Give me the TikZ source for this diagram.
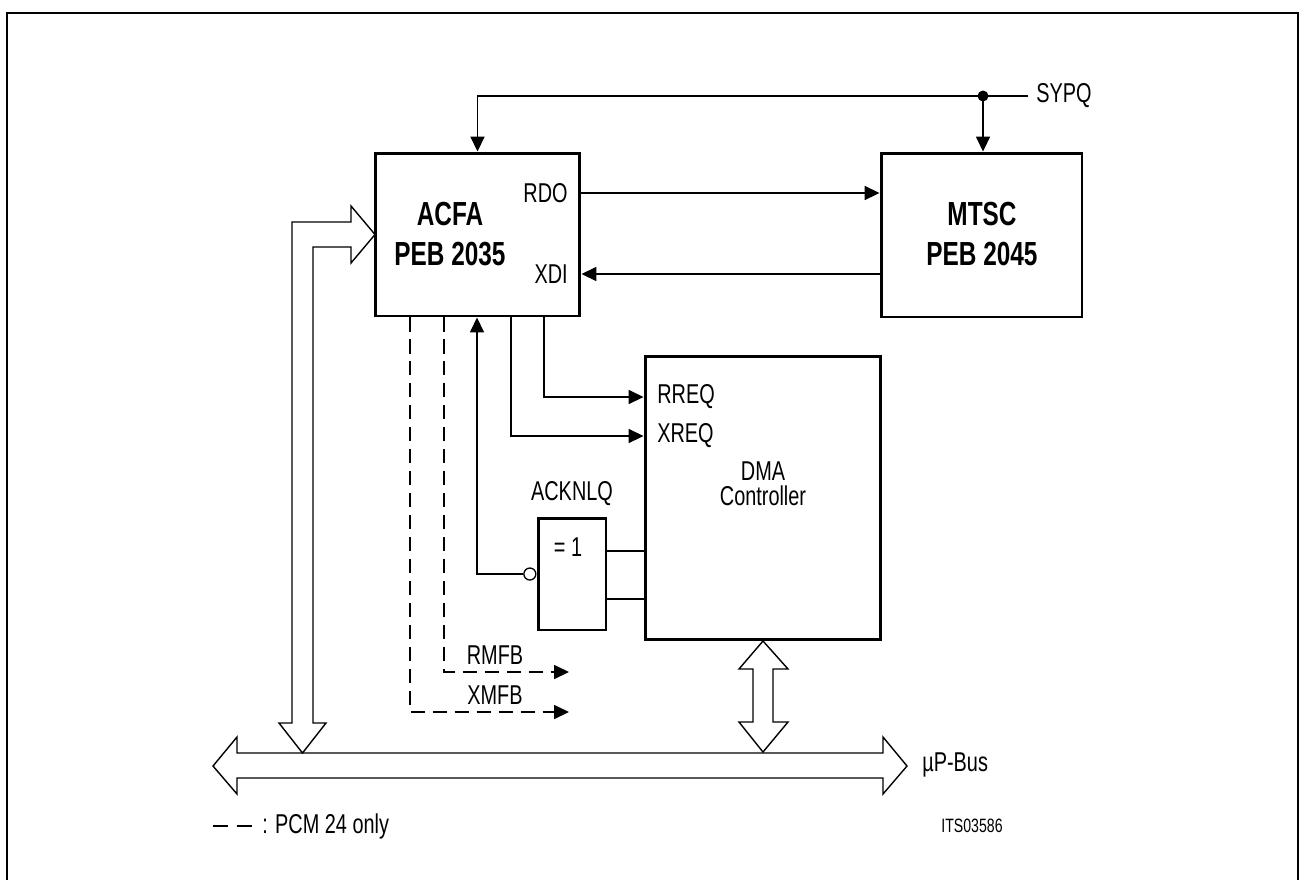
\documentclass[tikz,border=0pt]{standalone}
\usepackage{fontspec}
\setmainfont{Liberation Sans}[FakeStretch=0.73]
\usetikzlibrary{arrows.meta,positioning}

\begin{document}
\begin{tikzpicture}[x=0.02cm,y=-0.02cm,
  blk/.style={draw,line width=1.7pt,inner sep=0pt},
  wire/.style={line width=0.75pt},
  sig/.style={wire,-{Triangle[length=8.5pt,width=8pt]}},
  dsig/.style={sig,dash pattern=on 8pt off 4.5pt},
  fat/.style={draw,line width=0.8pt,fill=white,line join=miter},
  lbl/.style={inner sep=0pt,font=\fontsize{15.5pt}{18pt}\selectfont},
  ttl/.style={inner sep=0pt,align=center,font=\fontsize{19pt}{22.8pt}\selectfont\bfseries},
  negc/.style={draw,circle,line width=0.75pt,inner sep=0pt,minimum size=0.24cm,fill=white},
  jdot/.style={fill,circle,inner sep=0pt,minimum size=0.22cm}]

     \useasboundingbox (0,0) rectangle (1300,880);

     %frame
     \draw[line width=1.2pt] (7,880) -- (7,13) -- (1298,13) -- (1298,880);

     %ACFA and MTSC
     \node[blk,minimum width=4.1cm,minimum height=3.26cm] (acfa) at (477.5,234.5) {};
     \node[ttl] (acfat) at (450,234) {ACFA\\PEB 2035};
     \node[blk,minimum width=4.02cm,minimum height=3.28cm] (mtsc) at (981.5,235) {};
     \node[ttl] (mtsct) at (982,234) {MTSC\\PEB 2045};

     %SYPQ
     \coordinate (sy) at (1028,96);
     \node[jdot] (jn) at (983,96) {};
     \node[lbl,right=0.16cm of sy] (sypq) {SYPQ};
     \draw[wire] (sy) -- (jn.center);
     \draw[sig] (jn.center) -| (acfa.north);
     \draw[sig] (jn.center) -- (jn |- mtsc.north);

     %RDO, XDI
     \node[lbl,anchor=east] (rdo) at (568,193) {RDO};
     \node[lbl,anchor=east] (xdi) at (568,274) {XDI};
     \draw[sig] (rdo -| acfa.east) -- (rdo -| mtsc.west);
     \draw[sig] (xdi -| mtsc.west) -- (xdi -| acfa.east);

     %DMA controller
     \node[blk,minimum width=4.72cm,minimum height=5.68cm] (dma) at (763,498) {};
     \node[lbl,align=center,font=\fontsize{15.5pt}{14.2pt}\selectfont] (dmat) at (763,484) {DMA\\Controller};
     \node[lbl,anchor=west] (rreq) at (657,397) {RREQ};
     \node[lbl,anchor=west] (xreq) at (657,436) {XREQ};
     \coordinate (rr) at (544,0);
     \coordinate (xr) at (511,0);
     \draw[sig] (acfa.south -| rr) |- (rreq -| dma.west);
     \draw[sig] (acfa.south -| xr) |- (xreq -| dma.west);

     %gate
     \node[blk,minimum width=1.36cm,minimum height=2.24cm] (gate) at (572,574) {};
     \node[lbl] (eq) at (568,547) {= 1};
     \node[lbl,above=0.22cm of gate] (ack) {ACKNLQ};
     \coordinate (g1) at (0,551);
     \coordinate (g2) at (0,599);
     \draw[wire] (gate.east |- g1) -- (dma.west |- g1);
     \draw[wire] (gate.east |- g2) -- (dma.west |- g2);
     \node[negc,anchor=east] (neg) at (gate.west) {};
     \coordinate (ak) at (477,0);
     \draw[sig] (neg.west) -| (acfa.south -| ak);

     %PCM 24 only
     \coordinate (rm) at (569,672);
     \coordinate (xm) at (569,712);
     \coordinate (rmx) at (444,0);
     \coordinate (xmx) at (410,0);
     \draw[dsig] (acfa.south -| rmx) |- (rm);
     \draw[dsig] (acfa.south -| xmx) |- (xm);
     \node[lbl] (rmfb) at (495,655) {RMFB};
     \node[lbl] (xmfb) at (495,695) {XMFB};

     %buses
     \draw[fat] (213,766) -- (237,737) -- (237,753) -- (883,753) -- (883,737) -- (907,766)
        -- (883,794) -- (883,778) -- (237,778) -- (237,794) -- cycle;
     \draw[fat] (302.5,753) -- (326,723) -- (313,723) -- (313,247) -- (351,247) -- (351,263)
        -- (375,234.5) -- (351,206) -- (351,222) -- (292,222) -- (292,723) -- (279,723) -- cycle;
     \draw[fat] (763,641) -- (788,669) -- (773,669) -- (773,722) -- (788,722) -- (763,752)
        -- (739,722) -- (753,722) -- (753,669) -- (739,669) -- cycle;
     \node[lbl,anchor=west] (bus) at (922,765) {µP-Bus};

     %legend
     \draw[wire,dash pattern=on 8.5pt off 5pt] (213,826) -- (253,826);
     \node[lbl,anchor=west] (leg) at (262,826) {: PCM 24 only};
     \node[lbl,font=\fontsize{11pt}{13pt}\selectfont] (its) at (972,826) {ITS03586};

\end{tikzpicture}
\end{document}
